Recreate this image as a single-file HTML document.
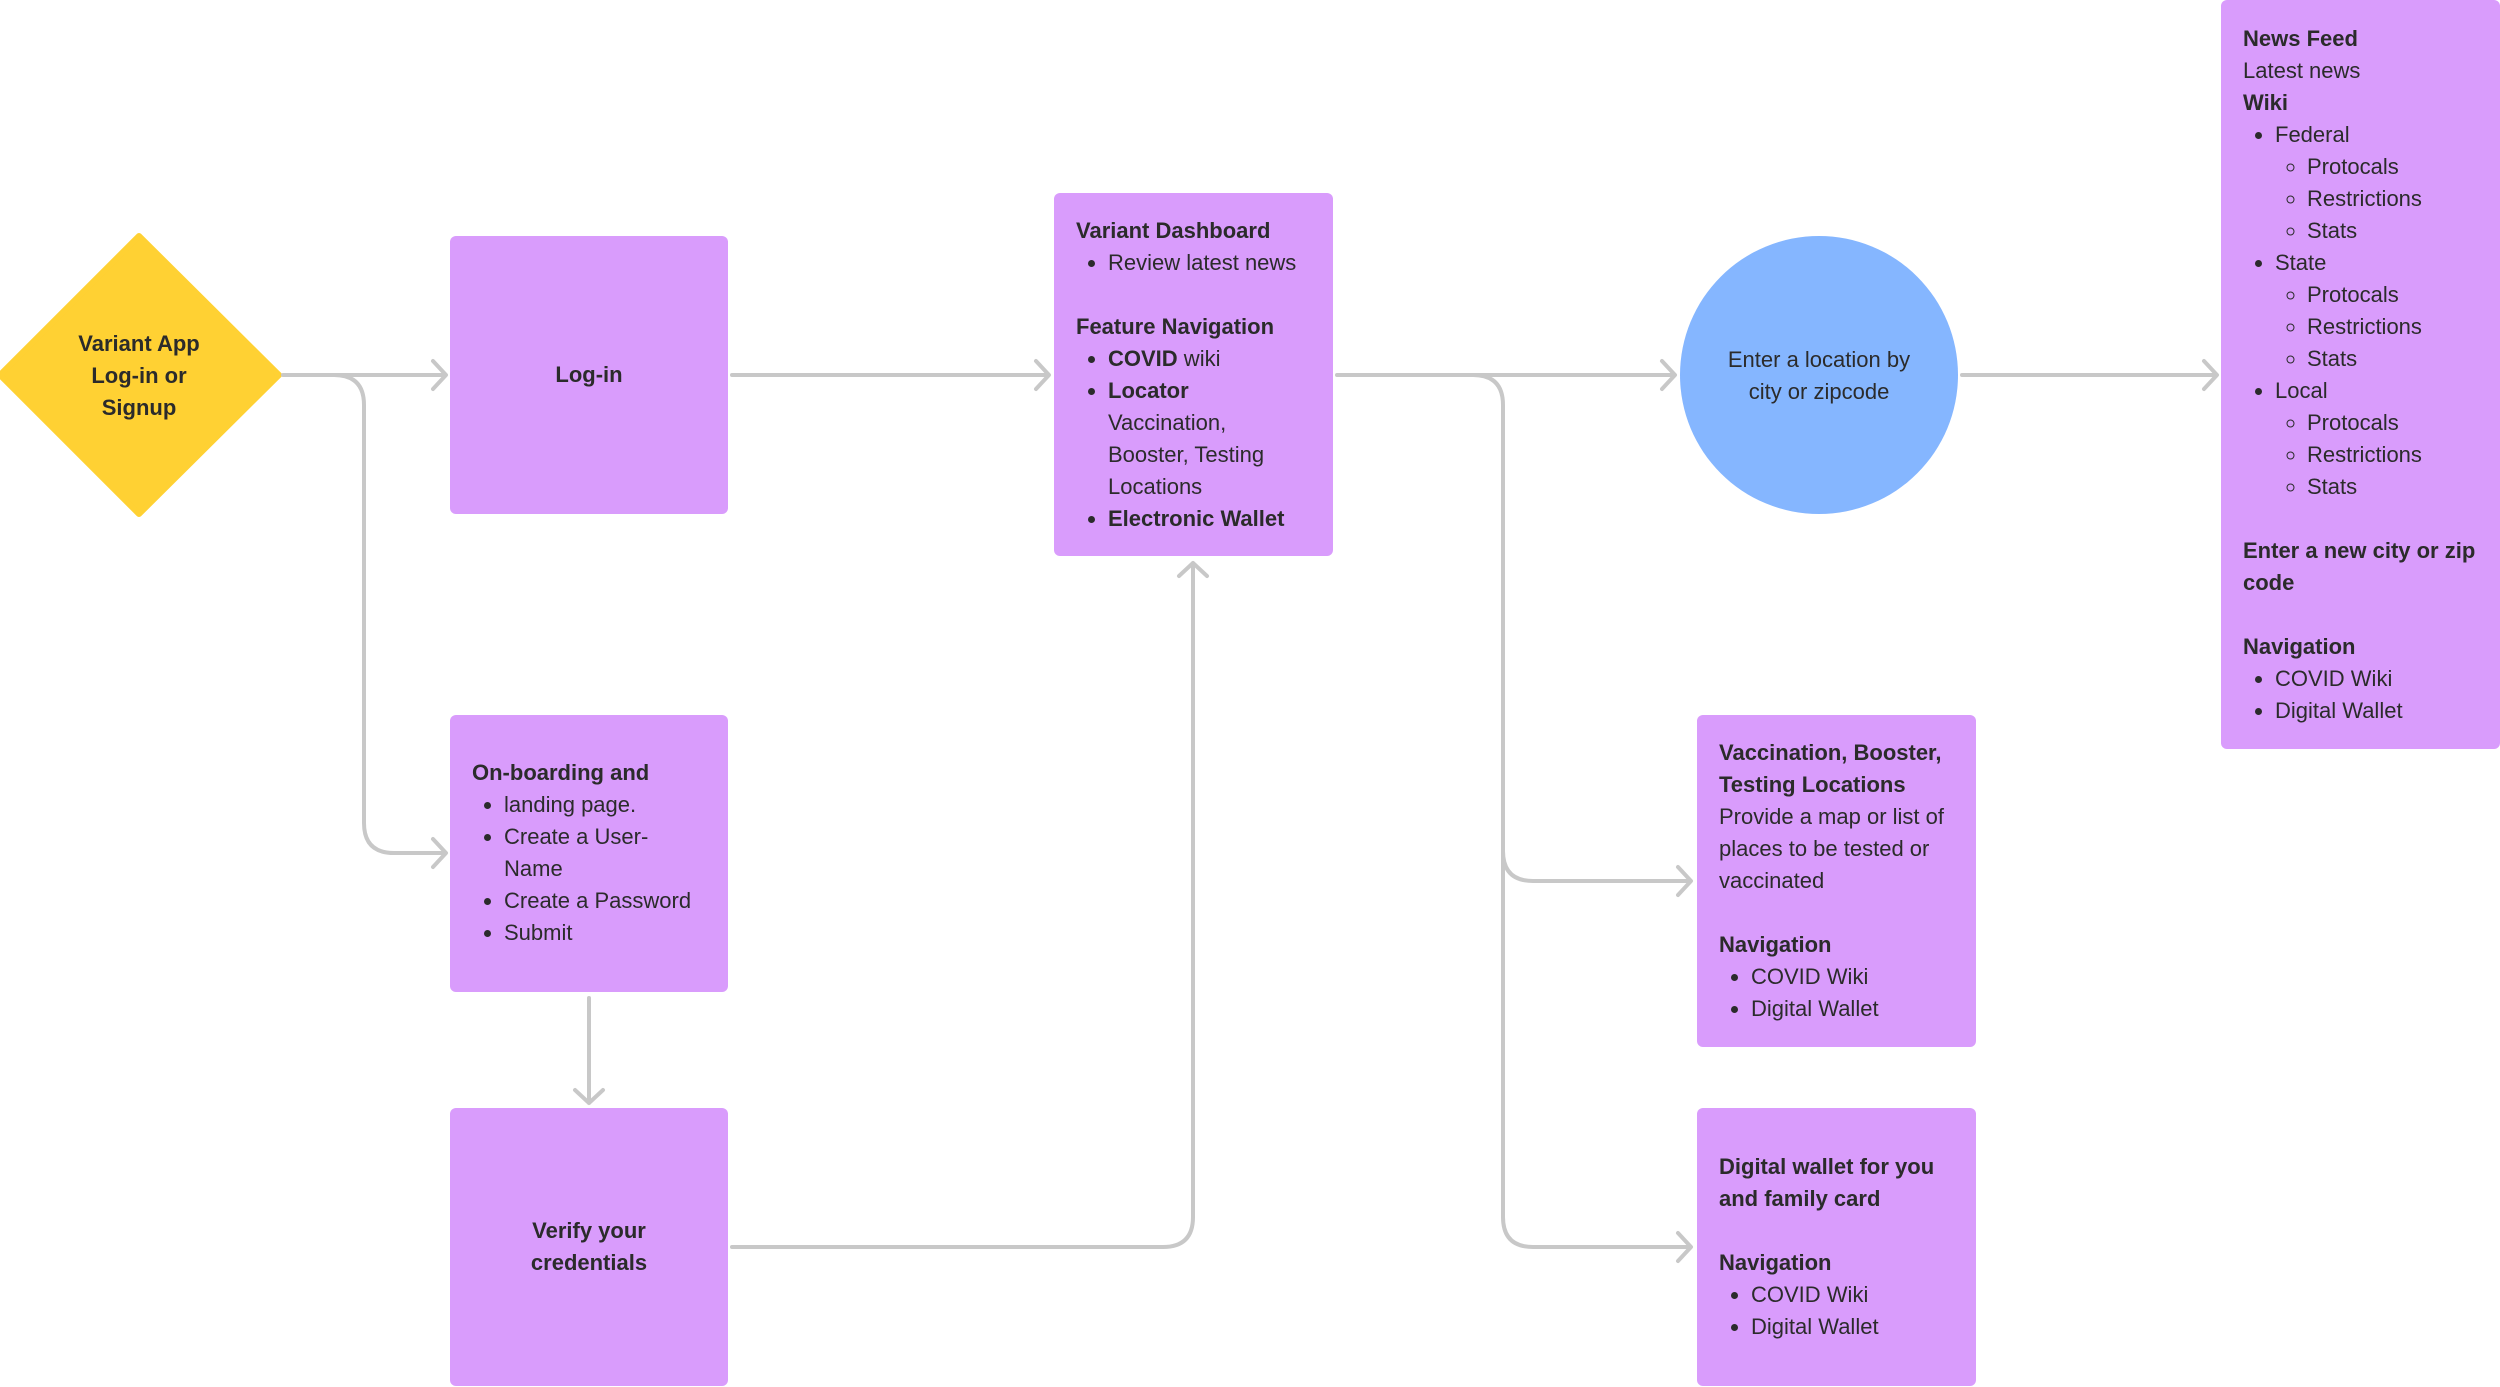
<!DOCTYPE html>
<html><head><meta charset="utf-8"><style>
body{margin:0;width:2500px;height:1387px;background:#fff;position:relative;overflow:hidden;font-family:"Liberation Sans",sans-serif;color:#2b2b2b;font-size:22px;line-height:32px}
.b{position:absolute;background:#d99cfc;border-radius:6px;box-sizing:border-box;padding:0 22px;display:flex;flex-direction:column;justify-content:center}
.b b{font-weight:bold}
ul{margin:0;padding-left:32px}
p{margin:0}
.c{text-align:center;align-items:center}
svg{position:absolute;left:0;top:0}
</style></head><body>
<svg width="2500" height="1387">
<polygon points="139,236 279,375 139,514 0,375" fill="#ffd133" stroke="#ffd133" stroke-width="6" stroke-linejoin="round"/>
<circle cx="1819" cy="375" r="139" fill="#85b6ff"/>
<g fill="none" stroke="#c8c8c8" stroke-width="4" stroke-linecap="round" stroke-linejoin="round">
<path d="M283 375 H445 M433 361 L446 375 L433 389"/>
<path d="M330 375 H334 Q364 375 364 405 V823 Q364 853 394 853 H445 M433 839 L446 853 L433 867"/>
<path d="M732 375 H1048 M1036 361 L1049 375 L1036 389"/>
<path d="M589 998 V1103 M575 1090 L589 1103 L603 1090"/>
<path d="M732 1247 H1163 Q1193 1247 1193 1217 V563 M1179 576 L1193 563 L1207 576"/>
<path d="M1337 375 H1674 M1662 361 L1675 375 L1662 389"/>
<path d="M1473 375 Q1503 375 1503 405 V851 Q1503 881 1533 881 H1690 M1678 867 L1691 881 L1678 895"/>
<path d="M1503 851 V1217 Q1503 1247 1533 1247 H1690 M1678 1233 L1691 1247 L1678 1261"/>
<path d="M1962 375 H2216 M2204 361 L2217 375 L2204 389"/>
</g>
<text x="139" y="351" text-anchor="middle" font-family="Liberation Sans" font-weight="bold" font-size="22" fill="#2b2b2b">Variant App</text>
<text x="139" y="383" text-anchor="middle" font-family="Liberation Sans" font-weight="bold" font-size="22" fill="#2b2b2b">Log-in or</text>
<text x="139" y="415" text-anchor="middle" font-family="Liberation Sans" font-weight="bold" font-size="22" fill="#2b2b2b">Signup</text>
<text x="1819" y="367" text-anchor="middle" font-family="Liberation Sans" font-size="22" fill="#2b2b2b">Enter a location by</text>
<text x="1819" y="399" text-anchor="middle" font-family="Liberation Sans" font-size="22" fill="#2b2b2b">city or zipcode</text>
</svg>
<div class="b c" style="left:450px;top:236px;width:278px;height:278px"><b>Log-in</b></div>
<div class="b" style="left:1054px;top:193px;width:279px;height:363px">
<b>Variant Dashboard</b><ul><li>Review latest news</li></ul><p>&nbsp;</p>
<b>Feature Navigation</b><ul><li><b>COVID</b> wiki</li><li><b>Locator</b><br>Vaccination, Booster, Testing Locations</li><li><b>Electronic Wallet</b></li></ul></div>
<div class="b" style="left:450px;top:715px;width:278px;height:277px;justify-content:flex-start;padding-top:42px">
<b>On-boarding and</b><ul><li>landing page.</li><li>Create a User-Name</li><li>Create a Password</li><li>Submit</li></ul></div>
<div class="b c" style="left:450px;top:1108px;width:278px;height:278px"><b>Verify your credentials</b></div>
<div class="b" style="left:2221px;top:0;width:279px;height:749px">
<b>News Feed</b><p>Latest news</p><b>Wiki</b>
<ul><li>Federal<ul><li>Protocals</li><li>Restrictions</li><li>Stats</li></ul></li>
<li>State<ul><li>Protocals</li><li>Restrictions</li><li>Stats</li></ul></li>
<li>Local<ul><li>Protocals</li><li>Restrictions</li><li>Stats</li></ul></li></ul>
<p>&nbsp;</p><b>Enter a new city or zip code</b><p>&nbsp;</p><b>Navigation</b><ul><li>COVID Wiki</li><li>Digital Wallet</li></ul></div>
<div class="b" style="left:1697px;top:715px;width:279px;height:332px">
<b>Vaccination, Booster, Testing Locations</b><p>Provide a map or list of places to be tested or vaccinated</p><p>&nbsp;</p>
<b>Navigation</b><ul><li>COVID Wiki</li><li>Digital Wallet</li></ul></div>
<div class="b" style="left:1697px;top:1108px;width:279px;height:278px">
<b>Digital wallet for you and family card</b><p>&nbsp;</p><b>Navigation</b><ul><li>COVID Wiki</li><li>Digital Wallet</li></ul></div>
</body></html>
